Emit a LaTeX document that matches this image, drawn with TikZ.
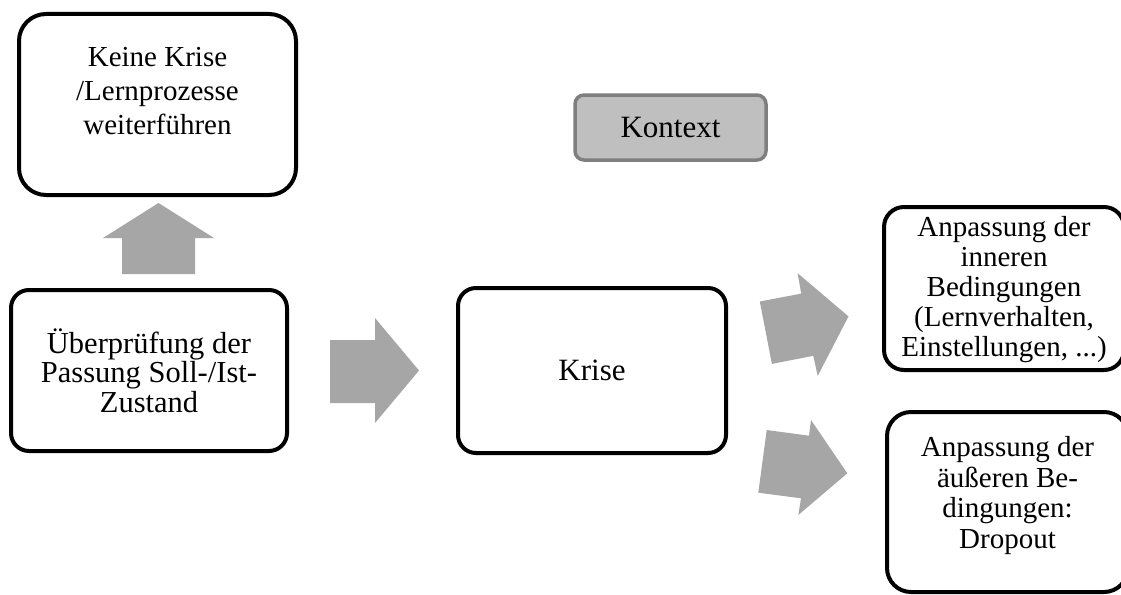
\documentclass[tikz,border=0pt]{standalone}
\usepackage{fontspec}
\setmainfont{Liberation Serif}
\definecolor{arrowgray}{HTML}{A6A6A6}
\definecolor{ctxfill}{HTML}{BFBFBF}
\definecolor{ctxdraw}{HTML}{7F7F7F}
\tikzset{
  box/.style={draw=black, line width=4pt, fill=white, rounded corners=#1, inner sep=0pt},
  box/.default=18pt,
  ctxbox/.style={draw=ctxdraw, fill=ctxfill, line width=3.5pt, rounded corners=9pt, inner sep=0pt},
  txt/.style={align=center, inner sep=0pt, text=black},
  blockarrow/.style={fill=arrowgray, draw=none}
}
\begin{document}
\begin{tikzpicture}[x=1pt,y=-1pt]
\useasboundingbox (0,0) rectangle (1121,594);
\begin{scope}
\clip (0,0) rectangle (1121,594);
% boxes
\node[box=27pt, minimum width=277pt, minimum height=181pt] (keine) at (157.5,104.5) {};
\node[txt, font=\fontsize{29}{34}\selectfont] (keinetxt) at (157.5,91.2) {Keine Krise\\/Lernprozesse\\weiterführen};

\node[box, minimum width=276pt, minimum height=161pt] (pruef) at (149,370.5) {};
\node[txt, font=\fontsize{30.5}{29.5}\selectfont] (prueftxt) at (149,370.5) {Überprüfung der\\Passung Soll-/Ist-\\Zustand};

\node[box, minimum width=268pt, minimum height=165pt, font=\fontsize{31}{31}\selectfont] (krise) at (592,370.5) {Krise};

\node[ctxbox, minimum width=191pt, minimum height=65pt, font=\fontsize{31}{31}\selectfont] (kontext) at (670.5,127.5) {Kontext};

\node[box=20pt, minimum width=240pt, minimum height=163pt] (innen) at (1004,288.5) {};
\node[txt, font=\fontsize{29}{30}\selectfont] (innentxt) at (1004,290) {Anpassung der\\inneren\\Bedingungen\\(Lernverhalten,\\Einstellungen, ...)};

\node[box=24pt, minimum width=241pt, minimum height=180pt] (aussen) at (1007.5,502) {};
\node[txt, font=\fontsize{29}{30.5}\selectfont] (aussentxt) at (1007.5,495.6) {Anpassung der\\äußeren Be-\\dingungen:\\Dropout};
\end{scope}

% block arrows
\fill[blockarrow] (122,274) -- (122,238) -- (103,238) -- (158.5,203) -- (214,238) -- (195,238) -- (195,274) -- cycle;
\fill[blockarrow] (330,340) -- (375,340) -- (375,318) -- (419,370.5) -- (375,423) -- (375,403) -- (330,403) -- cycle;
\fill[blockarrow] (759.8,301.5) -- (801.2,293.6) -- (797.6,273.2) -- (848.5,316.4) -- (817.7,375.9) -- (813.3,355.8) -- (771.9,363.9) -- cycle;
\fill[blockarrow] (766.7,430) -- (809,435.7) -- (811,420) -- (847.3,473.3) -- (798.3,515) -- (801,498.3) -- (758.3,492.7) -- cycle;
\end{tikzpicture}
\end{document}
